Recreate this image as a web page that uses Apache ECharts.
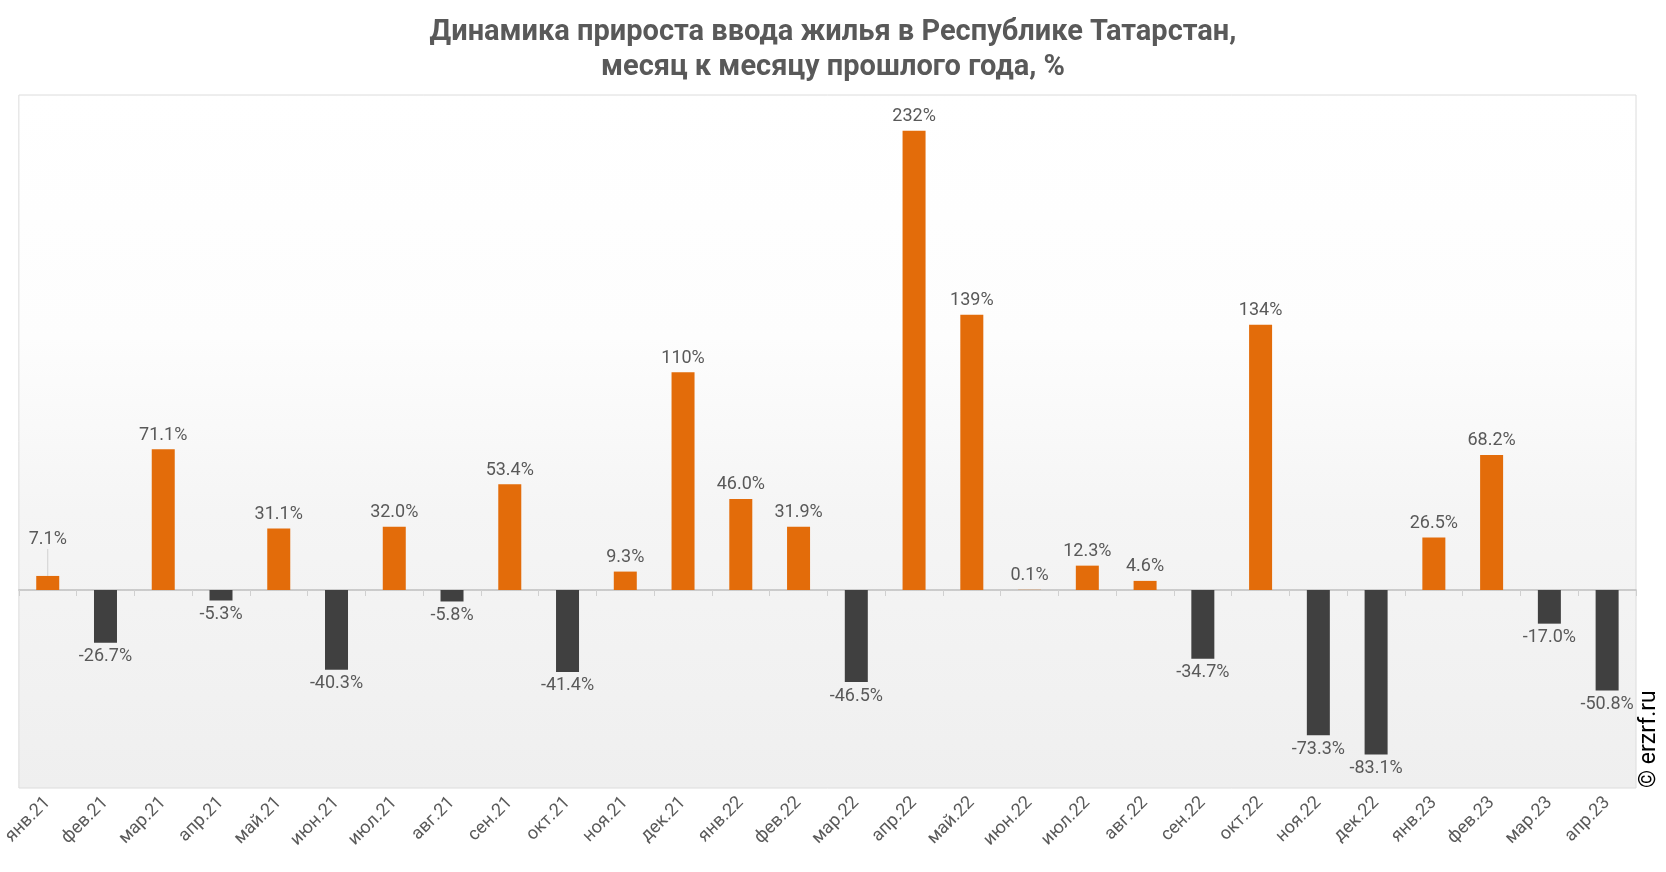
<!DOCTYPE html>
<html><head><meta charset="utf-8">
<script src="https://cdn.jsdelivr.net/npm/echarts@6/dist/echarts.min.js"></script>
<style>html,body{margin:0;padding:0;background:#fff}#c{width:1666px;height:872px}</style>
</head><body><div id="c"></div>
<script>
const categories = ['янв.21','фев.21','мар.21','апр.21','май.21','июн.21','июл.21','авг.21','сен.21','окт.21','ноя.21','дек.21','янв.22','фев.22','мар.22','апр.22','май.22','июн.22','июл.22','авг.22','сен.22','окт.22','ноя.22','дек.22','янв.23','фев.23','мар.23','апр.23'];
const values = [7.1,-26.7,71.1,-5.3,31.1,-40.3,32.0,-5.8,53.4,-41.4,9.3,110,46.0,31.9,-46.5,232,139,0.1,12.3,4.6,-34.7,134,-73.3,-83.1,26.5,68.2,-17.0,-50.8];
const titleText = 'Динамика прироста ввода жилья в Республике Татарстан,\nмесяц к месяцу прошлого года, %';

const chart = echarts.init(document.getElementById('c'));
const fmt = v => (Math.abs(v) >= 100 ? Math.round(v).toString() : v.toFixed(1)) + '%';
chart.setOption({
  animation: false,
  title: {
    text: titleText, left: 'center', top: 10,
    textStyle: {fontFamily: 'Liberation Sans Narrow, Roboto', fontWeight: 'bold', fontSize: 29, color: '#595959', lineHeight: 35}
  },
  graphic: [{
    type: 'text', x: 1661, y: 788, rotation: Math.PI/2,
    style: {text: '© erzrf.ru', fontFamily: 'Roboto', fontSize: 23, fill: '#000', textAlign: 'left', textVerticalAlign: 'bottom'}
  }],
  grid: {
    left: 18, right: 30, top: 95, bottom: 84, show: true,
    borderColor: '#dcdcdc', borderWidth: 1,
    backgroundColor: new echarts.graphic.LinearGradient(0,0,0,1,[
      {offset:0,color:'#ffffff'},{offset:0.35,color:'#fdfdfd'},{offset:0.6,color:'#f5f5f5'},{offset:1,color:'#efefef'}])
  },
  xAxis: [{
    type: 'category', data: categories, position: 'bottom',
    axisLine: {onZero: true, lineStyle: {color: '#bfbfbf', width: 1.5}},
    axisTick: {show: true, length: 6, lineStyle: {color: '#d0d0d0'}},
    axisLabel: {show: false}
  }, {
    type: 'category', data: categories, position: 'bottom',
    axisLine: {show: false, onZero: false}, axisTick: {show: false},
    axisLabel: {rotate: 45, fontFamily: 'Roboto', fontSize: 18, color: '#595959', margin: 12, interval: 0}
  }],
  yAxis: {type: 'value', min: -100, max: 250, show: false, splitLine: {show: false}},
  series: [{
    type: 'bar', barWidth: 23, xAxisIndex: 0,
    data: values.map((v, i) => ({
      value: v,
      itemStyle: {color: v >= 0 ? '#e36c0a' : '#404040'},
      label: {position: v >= 0 ? 'top' : 'bottom'},
      labelLine: {show: i === 0}
    })),
    label: {show: true, fontFamily: 'Roboto', fontSize: 18, color: '#595959', distance: 5,
      formatter: p => fmt(p.value)},
    labelLine: {show: false, lineStyle: {color: '#d0d0d0'}},
    labelLayout: p => p.dataIndex === 0 ? {dy: -22} : {}
  }]
});
</script></body></html>
